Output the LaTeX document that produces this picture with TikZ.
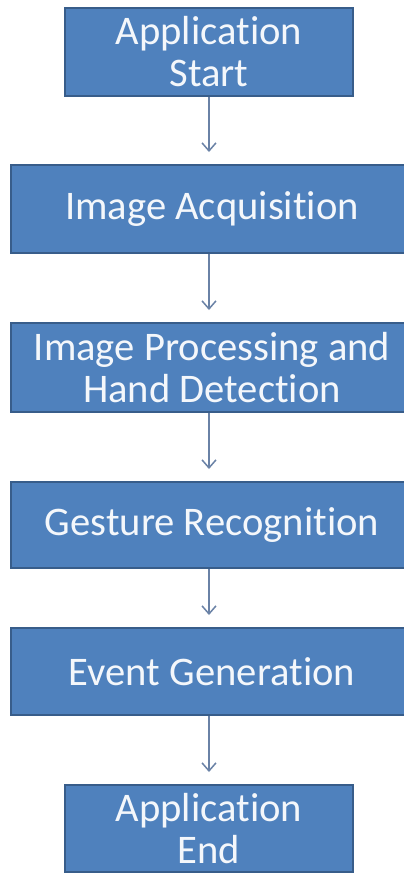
\documentclass[tikz,border=0pt]{standalone}
\usepackage{fontspec}
\setmainfont[Ligatures=NoCommon]{Carlito}
\usetikzlibrary{arrows.meta}
\definecolor{boxblue}{HTML}{4F81BD}
\definecolor{boxedge}{HTML}{385D8A}
\definecolor{arrowgray}{HTML}{6A82A6}
\definecolor{boxtext}{HTML}{F4F7FB}
\tikzset{
  stage/.style={draw=boxedge, line width=2pt, fill=boxblue, text=boxtext, align=center,
    inner sep=0pt, minimum height=88pt, font=\fontsize{40.6}{42}\selectfont},
  wide/.style={stage, minimum width=402pt},
  narrow/.style={stage, minimum width=288pt},
  flow/.style={draw=arrowgray, line width=1.5pt, -{Straight Barb[length=8pt,width=14pt]}, shorten >=12pt}
}
\begin{document}
\begin{tikzpicture}[x=1pt,y=1pt]
  \useasboundingbox (0,0) rectangle (404,-873);
  \node[narrow] (start) at (209,-52) {Application\\Start};
  \node[wide] (acq) at (212,-209) {Image Acquisition};
  \node[wide, minimum height=89pt] (proc) at (212,-367.5) {Image Processing and\\Hand Detection};
  \node[wide, minimum height=86pt] (gest) at (212,-525) {Gesture Recognition};
  \node[wide, minimum height=87pt] (event) at (212,-671.5) {Event Generation};
  \node[narrow, minimum height=87pt] (end) at (209,-828.5) {Application\\End};
  % arrows between the stages
  \draw[flow] (start) -- (start |- acq.north);
  \draw[flow] (start |- acq.south) -- (start |- proc.north);
  \draw[flow] (start |- proc.south) -- (start |- gest.north);
  \draw[flow] (start |- gest.south) -- (start |- event.north);
  \draw[flow] (start |- event.south) -- (end);
\end{tikzpicture}
\end{document}
